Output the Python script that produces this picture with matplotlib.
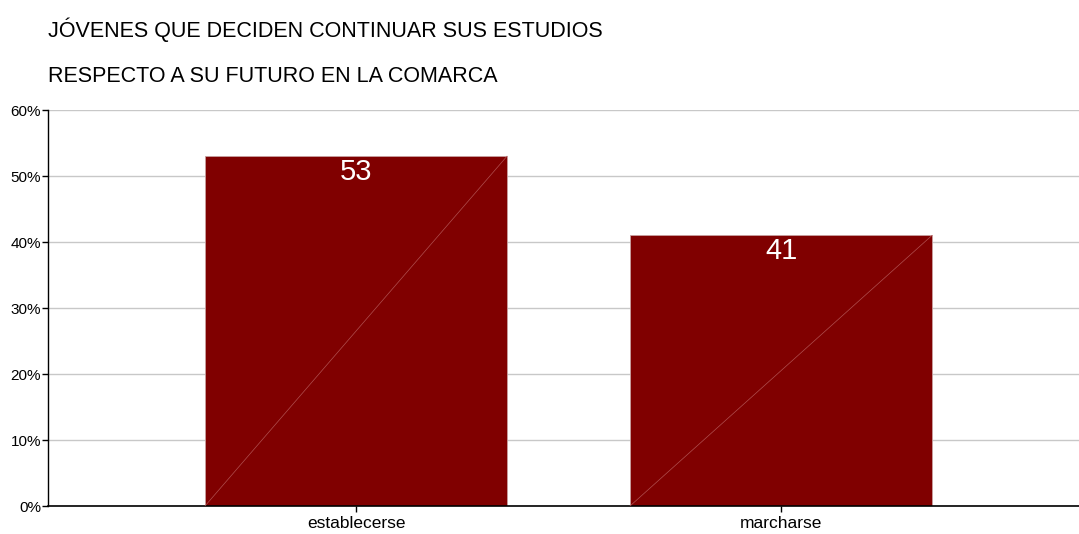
import matplotlib
matplotlib.use("Agg")
import matplotlib.pyplot as plt
from matplotlib import font_manager

categories = ["establecerse", "marcharse"]
values = [53, 41]
yticks = [0, 10, 20, 30, 40, 50, 60]
ytick_labels = ["0%", "10%", "20%", "30%", "40%", "50%", "60%"]
title_lines = ["JÓVENES QUE DECIDEN CONTINUAR SUS ESTUDIOS",
               "RESPECTO A SU FUTURO EN LA COMARCA"]

names = {f.name for f in font_manager.fontManager.ttflist}
fam = "Liberation Sans Narrow" if "Liberation Sans Narrow" in names else "Liberation Sans"
plt.rcParams['font.family'] = [fam, 'DejaVu Sans']

W, H = 1079, 534
fig = plt.figure(figsize=(W / 100, H / 100), dpi=100)
ax = fig.add_axes([48 / W, 1 - 506 / H, 1 - 48 / W, (506 - 110) / H])

bar_w = 302 / 425
xs = list(range(len(categories)))
bars = ax.bar(xs, values, width=bar_w, color="#800000", edgecolor="#c8a0a0",
              linewidth=0.6, zorder=2)
for x, v in zip(xs, values):
    ax.plot([x - bar_w / 2, x + bar_w / 2], [0, v], color="#b05050",
            linewidth=0.5, zorder=3)
    ax.text(x, v - 0.2, str(v), ha="center", va="top", color="white",
            fontsize=21, zorder=4)

ax.set_xlim((48 - 356) / 425, (1079 - 356) / 425)
ax.set_ylim(0, 60)
ax.set_yticks(yticks)
ax.set_yticklabels(ytick_labels, fontsize=11)
ax.set_xticks(xs)
ax.set_xticklabels(categories, fontsize=12.5)
ax.yaxis.grid(True, color="#c8c8c8", linewidth=1, zorder=0)
ax.set_axisbelow(True)
for s in ["top", "right"]:
    ax.spines[s].set_visible(False)
ax.spines["left"].set_linewidth(1)
ax.spines["bottom"].set_linewidth(1.2)
ax.tick_params(axis="y", length=4, width=1, pad=1)
ax.tick_params(axis="x", length=4, width=1, pad=3)

fig.text(48 / W, 1 - 30 / H, title_lines[0], fontsize=15.5, va="center", ha="left")
fig.text(48 / W, 1 - 77 / H, title_lines[1], fontsize=15.5, va="center", ha="left")

fig.savefig("out.png", dpi=100)
